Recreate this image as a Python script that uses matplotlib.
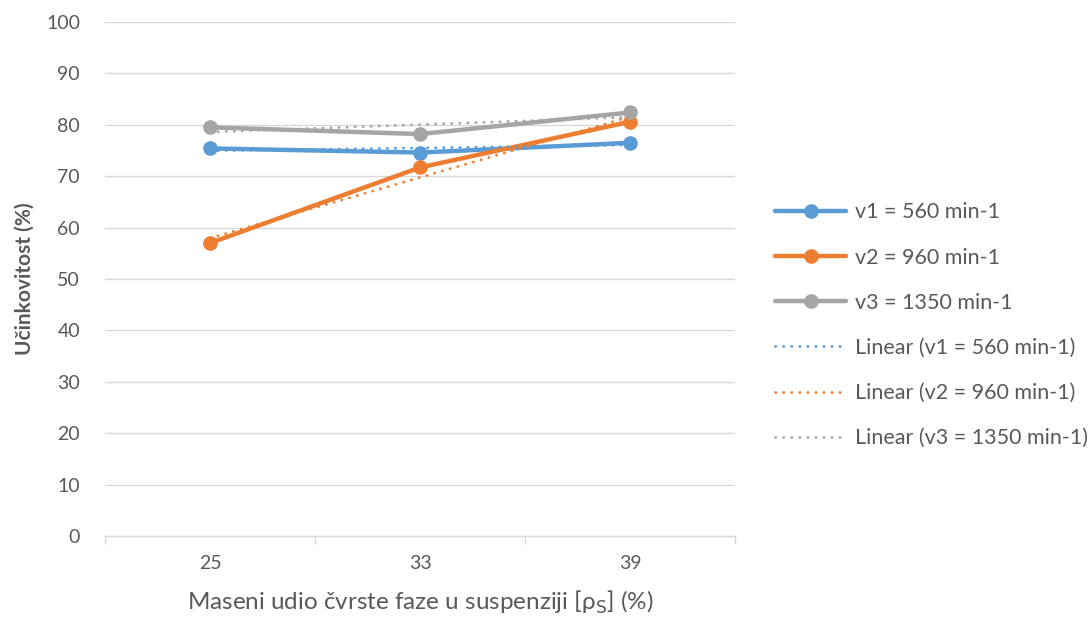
import numpy as np
import matplotlib.pyplot as plt

# data
categories = ['25', '33', '39']
v1 = [75.4, 74.6, 76.5]
v2 = [57.0, 71.7, 80.6]
v3 = [79.5, 78.2, 82.4]
series_names = ['v1 = 560 min-1', 'v2 = 960 min-1', 'v3 = 1350 min-1']
colors = ['#5B9BD5', '#ED7D31', '#A5A5A5']

plt.rcParams['font.family'] = ['Lato', 'DejaVu Sans']
text_color = '#595959'

fig = plt.figure(figsize=(10.92, 6.19), dpi=100)
ax = fig.add_axes([0.0962, 0.134, 0.577, 0.8305])

x = np.arange(1, len(categories) + 1)

# data lines
for vals, name, c in zip([v1, v2, v3], series_names, colors):
    ax.plot(x, vals, color=c, lw=3.2, marker='o', markersize=9.5,
            solid_capstyle='round', label=name, zorder=3)

# linear trendlines like Excel (fit on category index)
for vals, name, c in zip([v1, v2, v3], series_names, colors):
    k, b = np.polyfit(x, vals, 1)
    ax.plot(x, k * x + b, color=c, lw=2, linestyle=(0, (0.1, 2.8)),
            dash_capstyle='round', label='Linear (' + name + ')', zorder=4)

ax.set_xlim(0.5, 3.5)
ax.set_ylim(0, 100)
ax.set_yticks(range(0, 101, 10))
ax.set_xticks(x)
ax.set_xticklabels(categories)
ax.set_xticks([0.5, 1.5, 2.5, 3.5], minor=True)

ax.grid(axis='y', color='#D9D9D9', lw=1)
ax.set_axisbelow(True)
for s in ['top', 'right', 'left']:
    ax.spines[s].set_visible(False)
ax.spines['bottom'].set_color('#D9D9D9')
ax.spines['bottom'].set_linewidth(1)

ax.tick_params(axis='y', length=0, pad=18, labelsize=14, labelcolor=text_color)
ax.tick_params(axis='x', which='major', length=0, pad=14, labelsize=14, labelcolor=text_color)
ax.tick_params(axis='x', which='minor', length=6, color='#D9D9D9', width=1)

ax.set_ylabel('Učinkovitost (%)', fontsize=15, fontweight='bold', color=text_color, labelpad=8)
ax.set_xlabel(r'Maseni udio čvrste faze u suspenziji [ρ$_\mathrm{S}$] (%)',
              fontsize=17.5, color=text_color, labelpad=12)

leg = ax.legend(loc='center left', bbox_to_anchor=(1.033, 0.41), frameon=False,
                fontsize=15.5, labelcolor=text_color, handlelength=3.3,
                labelspacing=1.17, handletextpad=0.4)

fig.savefig('out.png', dpi=100)
